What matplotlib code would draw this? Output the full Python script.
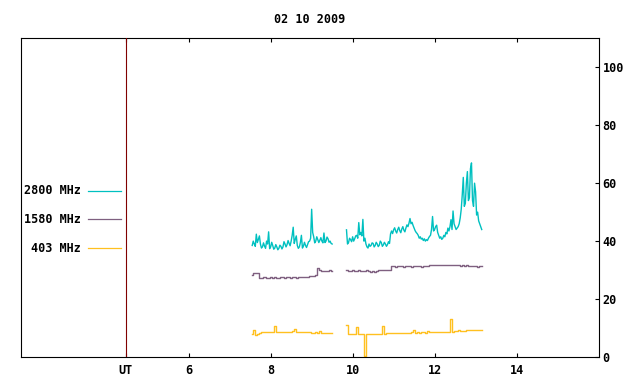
import numpy as np
import matplotlib
matplotlib.use("Agg")
import matplotlib.pyplot as plt

# ---- data ----
TITLE = "02 10 2009"
UT_POS = 4.46
XTICKS = [6, 8, 10, 12, 14]
YTICKS = [0, 20, 40, 60, 80, 100]

# two observing runs; 2800 MHz sampled at 0.025 h, the others at 0.05 h
t_fine1 = np.linspace(7.55, 9.50, 79)
t_fine2 = np.linspace(9.85, 13.15, 133)
t_run1 = np.linspace(7.55, 9.50, 40)
t_run2 = np.linspace(9.85, 13.15, 67)

f2800_run1 = [38.5, 40.0, 39.0, 38.2, 42.4, 39.5, 40.6, 41.8, 39.0, 37.6,
              38.0, 39.4, 38.3, 37.5, 40.0, 39.0, 43.2, 37.4, 38.0, 39.6,
              38.5, 37.2, 37.6, 38.8, 38.0, 37.0, 37.5, 38.6, 38.2, 37.3,
              38.0, 39.8, 39.0, 38.0, 38.8, 40.2, 39.2, 38.4, 40.0, 42.0,
              44.8, 39.2, 40.6, 41.8, 38.5, 37.5, 38.0, 39.5, 42.0, 37.6,
              38.3, 39.6, 38.5, 37.8, 38.8, 39.8, 40.0, 41.0, 51.0, 43.0,
              41.5, 39.4, 40.0, 41.5, 40.5, 39.5, 40.3, 41.2, 40.0, 39.4,
              42.8, 39.5, 40.0, 41.4, 40.8, 39.6, 40.0, 39.2, 39.0]
f2800_run2 = [43.9, 39.0, 39.5, 41.0, 40.5, 39.8, 41.5, 40.0, 40.8, 41.8,
              42.0, 41.0, 46.4, 42.2, 43.0, 41.8, 47.5, 40.0, 41.0, 39.0,
              38.0, 37.6, 39.0, 38.2, 38.5, 39.4, 39.2, 38.0, 38.5, 39.6,
              39.0, 38.1, 38.6, 40.0, 39.5, 38.2, 38.7, 39.6, 39.0, 38.2,
              38.8, 39.8, 39.2, 42.5, 43.5, 42.6, 43.9, 44.6, 43.5, 42.8,
              44.0, 44.8, 43.6, 42.9, 44.2, 45.0, 43.8, 43.2, 44.5, 45.6,
              45.0, 46.2, 47.8, 46.0, 46.5, 45.4, 44.5, 43.6, 43.0, 42.6,
              42.0, 41.0, 41.5, 40.7, 41.0, 40.2, 40.8, 40.0, 40.5, 40.2,
              41.0, 41.6, 42.0, 44.0, 48.5, 43.5, 44.0, 45.0, 45.5, 43.0,
              42.0, 41.0, 41.5, 40.6, 41.0, 42.0, 41.5, 43.0, 42.5, 44.5,
              43.5, 45.0, 47.4, 44.0, 50.4, 46.0, 45.0, 44.0, 44.5, 45.0,
              46.0, 48.0, 51.0, 56.0, 62.0, 52.0, 53.0, 60.0, 64.0, 54.0,
              55.0, 65.0, 67.0, 54.0, 52.0, 60.0, 57.0, 49.0, 50.0, 47.0,
              46.0, 45.0, 44.0]

f1580_run1 = [28.3, 28.9, 29.0, 28.9, 27.2, 27.3, 27.5, 27.4, 27.4, 27.6,
              27.4, 27.5, 27.4, 27.3, 27.6, 27.5, 27.4, 27.6, 27.5, 27.2,
              27.6, 27.5, 27.4, 27.6, 27.5, 27.6, 27.7, 27.6, 27.8, 28.0,
              28.0, 28.2, 30.6, 30.2, 29.8, 29.6, 29.8, 29.7, 29.9, 29.8]
f1580_run2 = [29.9, 29.8, 29.7, 29.9, 29.8, 29.7, 29.9, 29.8, 29.7, 29.8,
              29.9, 29.7, 29.5, 29.6, 29.5, 29.6, 29.9, 30.0, 30.1, 29.9,
              30.1, 30.0, 31.4, 31.4, 31.2, 31.3, 31.4, 31.3, 31.2, 31.4,
              31.3, 31.3, 31.2, 31.4, 31.3, 31.3, 31.4, 31.2, 31.3, 31.4,
              31.3, 31.8, 31.7, 31.9, 31.6, 31.8, 31.7, 31.8, 31.6, 31.8,
              31.7, 31.8, 31.7, 31.6, 31.6, 31.7, 31.5, 31.6, 31.5, 31.6,
              31.4, 31.5, 31.3, 31.3, 31.2, 31.3, 31.4]

f403_run1 = [8.0, 9.4, 7.6, 8.0, 8.4, 8.5, 8.6, 8.5, 8.6, 8.5,
             8.8, 10.7, 8.8, 8.7, 8.8, 8.6, 8.8, 8.7, 8.8, 8.7,
             8.9, 9.8, 8.8, 8.7, 8.8, 8.7, 8.8, 8.6, 8.7, 8.4,
             8.2, 8.6, 8.3, 8.9, 8.2, 8.4, 8.2, 8.2, 8.2, 8.2]
f403_run2 = [11.0, 7.9, 8.0, 7.9, 7.9, 10.4, 7.9, 7.9, 8.0, 0.3,
             8.0, 8.0, 8.0, 8.1, 8.0, 8.1, 8.0, 8.1, 10.7, 8.1,
             8.2, 8.2, 8.3, 8.2, 8.3, 8.4, 8.3, 8.3, 8.4, 8.3,
             8.4, 8.4, 8.5, 9.4, 8.4, 8.5, 8.4, 8.5, 8.6, 8.4,
             9.0, 8.5, 8.5, 8.6, 8.5, 8.5, 8.6, 8.6, 8.6, 8.7,
             8.7, 13.1, 8.8, 8.9, 8.9, 9.4, 9.0, 9.1, 9.1, 9.2,
             9.2, 9.3, 9.4, 9.2, 9.4, 9.3, 9.2]

series = [
    ("2800 MHz", (t_fine1, f2800_run1), (t_fine2, f2800_run2), "#00c0c0", "default"),
    ("1580 MHz", (t_run1, f1580_run1), (t_run2, f1580_run2), "#7f6080", "steps-mid"),
    ("403 MHz", (t_run1, f403_run1), (t_run2, f403_run2), "#ffc020", "steps-mid"),
]

FONT = dict(family="DejaVu Sans Mono", weight="bold", size=8.5)

fig = plt.figure(figsize=(6.4, 3.84), dpi=100)
ax = fig.add_axes([0.0323, 0.0703, 0.9029, 0.8299])

for label, run1, run2, color, ds in series:
    ax.plot(run1[0], run1[1], color=color, lw=1.0, drawstyle=ds)
    ax.plot(run2[0], run2[1], color=color, lw=1.0, drawstyle=ds)

ax.axvline(UT_POS, color="#800000", lw=0.8, zorder=3)

ax.set_xlim(1.9, 16.0)
ax.set_ylim(0, 110)

ax.set_xticks([UT_POS] + XTICKS)
ax.set_xticklabels(["UT"] + [str(v) for v in XTICKS], fontdict=FONT)
ax.tick_params(axis="x", direction="in", length=3, width=0.8, top=True,
               pad=5, color="black")

ax.yaxis.tick_right()
ax.set_yticks(YTICKS)
ax.set_yticklabels([str(v) for v in YTICKS], fontdict=FONT)
ax.tick_params(axis="y", direction="in", length=3, width=0.8, left=False,
               right=True, pad=3)

for sp in ax.spines.values():
    sp.set_linewidth(0.8)

# gnuplot-style key: text then sample line
key_y = [0.521, 0.433, 0.342]
for (label, _, _, color, _), ky in zip(series, key_y):
    ax.text(0.1044, ky, label, transform=ax.transAxes, ha="right",
            va="center", fontdict=FONT)
    ax.plot([0.1165, 0.1736], [ky, ky], transform=ax.transAxes,
            color=color, lw=0.9)

fig.text(0.4838, 0.9505, TITLE, ha="center", va="center", fontdict=FONT)

fig.savefig("out.png", dpi=100)
